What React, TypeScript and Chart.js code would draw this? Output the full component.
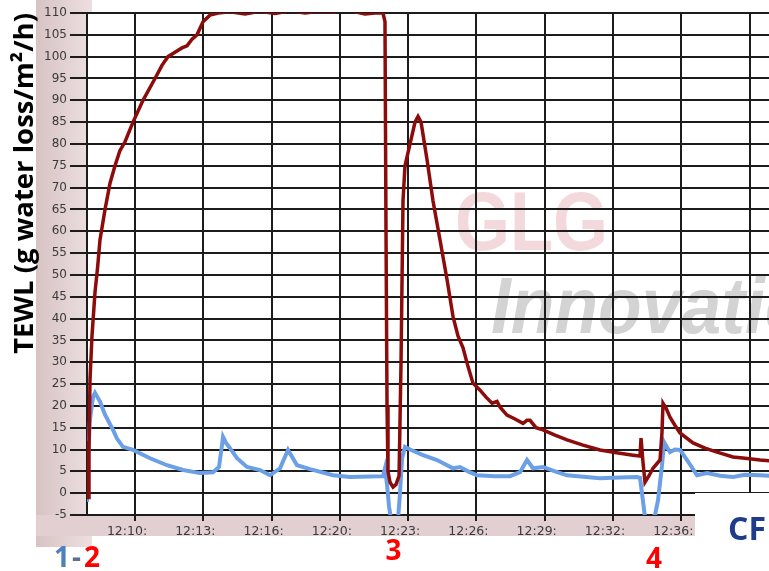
import { useEffect, useRef } from "react";
import { Chart, registerables } from "chart.js";

Chart.register(...registerables);

// x positions are in units of the time-grid interval (0 = "12:10" gridline)
const tickLabels = ["12:10:", "12:13:", "12:16:", "12:20:", "12:23:", "12:26:", "12:29:", "12:32:", "12:36:", ""];
const yTitle = "TEWL (g water loss/m\u00B2/h)";

const redTime = [
  -0.718, -0.696, -0.688, -0.674, -0.659, -0.63, -0.586, -0.546, -0.513, -0.439, -0.366, -0.293, -0.22, -0.146,
  -0.029, 0.117, 0.293, 0.395, 0.483, 0.586, 0.688, 0.762, 0.835, 0.908, 0.996, 1.098, 1.216, 1.391, 1.611, 1.831,
  2.05, 2.27, 2.49, 2.709, 2.929, 3.076, 3.222, 3.369, 3.515, 3.632, 3.661, 3.676, 3.691, 3.705, 3.735, 3.779,
  3.823, 3.867, 3.896, 3.925, 3.954, 4.028, 4.101, 4.145, 4.189, 4.277, 4.364, 4.467, 4.569, 4.657, 4.73, 4.804,
  4.877, 4.95, 5.053, 5.141, 5.229, 5.302, 5.346, 5.448, 5.565, 5.682, 5.741, 5.785, 5.873, 5.975, 6.151, 6.327,
  6.561, 6.81, 7.03, 7.294, 7.396, 7.411, 7.44, 7.469, 7.528, 7.586, 7.689, 7.718, 7.733, 7.777, 7.835, 7.909,
  7.982, 8.172, 8.348, 8.524, 8.758, 8.934, 9.154, 9.3,
];
const redTewl = [
  12, 6, -1, 10, 26, 36, 46, 52, 58, 65, 71, 75, 78.5, 80.5,
  85, 90, 95, 98, 100, 101, 102, 102.5, 104, 105, 108, 109.5, 110, 110.3, 109.8, 110.4,
  109.9, 110.5, 110, 110.4, 110.2, 111, 110.3, 109.8, 110, 110, 108, 60, 20, 5, 2.5, 1.4,
  2, 4, 30, 67, 75, 80, 85, 86.3, 85, 76.4, 67, 58, 49, 40.5, 36, 33.3,
  29, 25.2, 23.6, 22, 20.6, 21, 19.7, 17.9, 17, 16, 16.7, 16.7, 15, 14.5, 13.3, 12.2,
  11, 9.9, 9.3, 8.7, 8.5, 12.6, 7, 2.5, 4, 5.7, 7.6, 14, 20.6, 19.5, 17.4, 15.5,
  13.8, 11.5, 10.3, 9.4, 8.3, 8, 7.6, 7.4,
];

const blueTime = [
  -0.703, -0.688, -0.659, -0.615, -0.586, -0.513, -0.439, -0.322, -0.264, -0.176, -0.029, 0.22, 0.469, 0.703,
  0.952, 1.142, 1.23, 1.274, 1.289, 1.333, 1.391, 1.494, 1.64, 1.831, 1.977, 2.124, 2.241, 2.373, 2.563, 2.9,
  3.149, 3.442, 3.632, 3.661, 3.691, 3.72, 3.749, 3.852, 3.881, 3.911, 3.954, 4.028, 4.218, 4.423, 4.657, 4.76,
  4.877, 5.009, 5.272, 5.492, 5.639, 5.741, 5.829, 5.975, 6.151, 6.327, 6.81, 7.103, 7.352, 7.396, 7.425, 7.469,
  7.543, 7.616, 7.66, 7.718, 7.748, 7.792, 7.835, 7.909, 7.982, 8.085, 8.231, 8.378, 8.568, 8.758, 8.934, 9.154,
  9.3,
];
const blueTewl = [
  -2, 8, 17, 22, 23, 21, 18, 14.5, 12.5, 10.6, 9.9, 8, 6.4, 5.3,
  4.6, 4.8, 6, 11, 12.9, 11.5, 10.3, 8, 6, 5.3, 4.1, 5.7, 9.9, 6.4, 5.5, 4.1,
  3.7, 3.8, 3.9, 5.7, 2, -3, -6, -6, 0, 8, 10.6, 10, 8.7, 7.6, 5.7, 6,
  5, 4.1, 3.9, 3.9, 4.8, 7.6, 5.7, 6, 5, 4.1, 3.4, 3.6, 3.7, 3.5, 0, -5.5,
  -6, -5, -1.6, 6.4, 11.7, 10.5, 9.4, 10, 9.9, 7.6, 4.1, 4.6, 4, 3.7, 4.2, 4.1,
  4,
];

const eventLabels = ["3", "4"];
const eventTimes = [3.785, 7.6];

const GRID = "#1c1c1c";
const Y_TICK_FONT = { family: "'DejaVu Sans', sans-serif", size: 12 };
const X_TICK_FONT = { family: "'DejaVu Sans', sans-serif", size: 12.5 };

const decorPlugin = {
  id: "decor",
  beforeDraw(chart: any) {
    const { ctx, chartArea: a, width, height } = chart;
    ctx.save();
    ctx.fillStyle = "#ffffff";
    ctx.fillRect(0, 0, width, height);
    const g = ctx.createLinearGradient(36, 0, 92, 0);
    g.addColorStop(0, "#d8c3c4");
    g.addColorStop(1, "#ecdfe0");
    ctx.fillStyle = g;
    ctx.fillRect(36, 0, 56, 547);
    ctx.fillStyle = "#e2cfd1";
    ctx.fillRect(36, a.bottom, width - 36, 536 - a.bottom);
    ctx.fillStyle = "#ffffff";
    ctx.fillRect(a.left, a.top, a.right - a.left, a.bottom - a.top);

    // watermark
    ctx.save();
    ctx.beginPath();
    ctx.rect(a.left, a.top, a.right - a.left, a.bottom - a.top);
    ctx.clip();
    ctx.font = "bold 84px 'Liberation Sans', Arial, sans-serif";
    const wG = ctx.measureText("GLG").width;
    ctx.save();
    ctx.translate(455, 250);
    ctx.scale(153 / wG, 1);
    ctx.fillStyle = "#f3d8dc";
    ctx.fillText("GLG", 0, 0);
    ctx.restore();
    ctx.font = "italic bold 80px 'Liberation Sans', Arial, sans-serif";
    const wI = ctx.measureText("Innovat").width;
    ctx.save();
    ctx.translate(491, 333);
    ctx.scale(254 / wI, 1);
    ctx.fillStyle = "#d3d3d3";
    ctx.fillText("Innovations", 0, 0);
    ctx.restore();
    ctx.restore();
    ctx.restore();
  },
  afterDraw(chart: any) {
    const { ctx, width, height, scales } = chart;
    ctx.save();
    ctx.fillStyle = "#ffffff";
    ctx.fillRect(92, 536, width - 92, 11);
    ctx.fillRect(0, 547, width, height - 547);
    ctx.fillRect(695, 493, width - 695, height - 493);

    ctx.textBaseline = "alphabetic";
    ctx.font = "bold 32px 'Open Sans', sans-serif";
    ctx.fillStyle = "#1f3c8c";
    ctx.fillText("CF", 728, 540);

    ctx.font = "bold 28px 'Open Sans', sans-serif";
    let x = 54;
    ctx.fillStyle = "#4f81bd";
    ctx.fillText("1", x, 567);
    x += ctx.measureText("1").width + 2;
    ctx.fillStyle = "#5b6f95";
    ctx.fillText("-", x, 567);
    x += ctx.measureText("-").width + 3;
    ctx.fillStyle = "#ff0000";
    ctx.fillText("2", x, 567);

    ctx.textAlign = "center";
    const baselines = [560, 568];
    eventLabels.forEach((lab, i) => {
      const px = scales.x.getPixelForValue(eventTimes[i]);
      ctx.fillStyle = "#ff0000";
      ctx.fillText(lab, px, baselines[i]);
    });
    ctx.restore();
  },
};

export default function App() {
  const ref = useRef<HTMLCanvasElement>(null);
  useEffect(() => {
    const chart = new Chart(ref.current!, {
      type: "line",
      data: {
        datasets: [
          {
            label: "red",
            data: redTime.map((t, i) => ({ x: t, y: redTewl[i] })),
            borderColor: "#8c0b0b",
            borderWidth: 3.5,
            pointRadius: 0,
            tension: 0,
          },
          {
            label: "blue",
            data: blueTime.map((t, i) => ({ x: t, y: blueTewl[i] })),
            borderColor: "#6b9fe6",
            borderWidth: 4,
            pointRadius: 0,
            tension: 0,
          },
        ],
      },
      options: {
        animation: false,
        responsive: false,
        maintainAspectRatio: false,
        layout: { padding: { top: 13, left: 0, right: 0, bottom: 0 } },
        plugins: { legend: { display: false }, tooltip: { enabled: false } },
        scales: {
          x: {
            type: "linear",
            min: -0.703,
            max: 9.285,
            afterBuildTicks: (s: any) => {
              s.ticks = tickLabels.map((_, i) => ({ value: i }));
            },
            afterFit: (s: any) => {
              s.height = 56;
            },
            ticks: {
              autoSkip: false,
              maxRotation: 0,
              minRotation: 0,
              labelOffset: -8,
              padding: 3,
              color: "#3a3a3a",
              font: X_TICK_FONT,
              callback: (v: any) => tickLabels[Math.round(Number(v))] ?? "",
            },
            grid: { color: GRID, lineWidth: 2, tickLength: 6, tickColor: GRID, drawTicks: true },
            border: { display: true, color: GRID, width: 2 },
          },
          y: {
            min: -5,
            max: 110,
            afterFit: (s: any) => {
              s.width = 87;
            },
            ticks: {
              stepSize: 5,
              autoSkip: false,
              padding: 3,
              color: "#3a3a3a",
              font: Y_TICK_FONT,
            },
            grid: { color: GRID, lineWidth: 2, tickLength: 17, tickColor: GRID, drawTicks: true },
            border: { display: true, color: GRID, width: 2 },
            title: {
              display: true,
              text: yTitle,
              align: "end",
              color: "#000000",
              font: { family: "'Open Sans', sans-serif", weight: "bold", size: 27.5 },
              padding: { top: 9, bottom: 0 },
            },
          },
        },
      },
      plugins: [decorPlugin],
    } as any);
    return () => chart.destroy();
  }, []);
  return (
    <canvas
      ref={ref}
      width={769}
      height={571}
      style={{ position: "fixed", left: 0, top: 0, width: 769, height: 571, display: "block" }}
    />
  );
}
